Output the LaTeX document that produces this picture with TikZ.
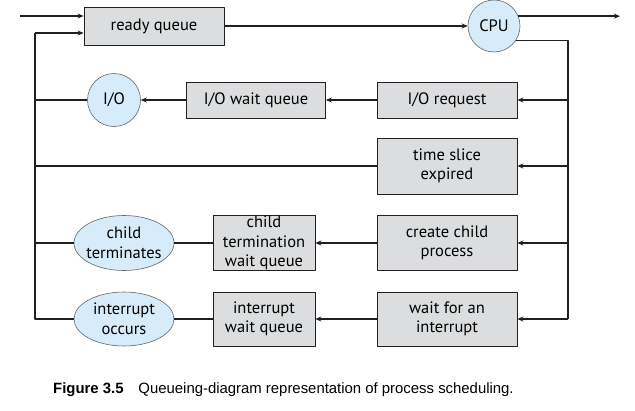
\documentclass[tikz,border=0pt]{standalone}
\usepackage{fontspec}
\setmainfont{PT Sans}
\newfontfamily\capfont{Liberation Sans}
\usetikzlibrary{arrows.meta,shapes.geometric}
\definecolor{boxgray}{RGB}{220,221,222}
\definecolor{procblue}{RGB}{214,236,250}
\definecolor{linedark}{RGB}{35,31,32}

\begin{document}
\begin{tikzpicture}[x=1pt, y=-1pt, line join=round,
    queue/.style={draw=linedark, line width=0.8pt, fill=boxgray, inner sep=0pt,
      align=center, font=\fontsize{16.5}{19.5}\selectfont},
    event/.style={draw=gray!80!black, line width=0.6pt, fill=procblue, inner sep=0pt,
      align=center, font=\fontsize{16.5}{19.5}\selectfont},
    flow/.style={line width=1.6pt, draw=linedark},
    arr/.style={flow, -{Stealth[length=6pt,width=5pt]}}]
      \useasboundingbox (0,0) rectangle (635,410);
      % buses and free ends
      \coordinate (lbus) at (35,0); \coordinate (rbus) at (568,0);
      \coordinate (in) at (20,16); \coordinate (out) at (620,16);
      % top row
      \node[queue, minimum width=140pt, minimum height=38pt] (rq) at (154,26) {ready queue};
      \node[event, circle, minimum size=52pt] (cpu) at (494,26) {CPU};
      \coordinate (rqin) at ([yshift=-7pt]rq.west);
      % I/O row
      \node[queue, minimum width=140pt, minimum height=36pt] (ioreq) at (447,100) {I/O request};
      \node[queue, minimum width=139pt, minimum height=36pt] (iowq) at (256,100) {I/O wait queue};
      \node[event, circle, minimum size=53pt] (io) at (114,100) {I/O};
      % time slice row
      \node[queue, minimum width=140pt, minimum height=56pt] (slice) at (447,166) {time slice\\expired};
      % child row
      \node[queue, minimum width=140pt, minimum height=55pt] (fork) at (447,243) {create child\\process};
      \node[queue, minimum width=102pt, minimum height=55pt] (cwq) at (264,243) {child\\termination\\wait queue};
      \node[event, ellipse, inner xsep=-5pt, inner ysep=-4pt, minimum width=100pt, minimum height=55pt] (cterm) at (124,243) {child\\terminates};
      % interrupt row
      \node[queue, minimum width=140pt, minimum height=54pt] (wint) at (447,319) {wait for an\\interrupt};
      \node[queue, minimum width=102pt, minimum height=54pt] (iwq) at (264,319) {interrupt\\wait queue};
      \node[event, ellipse, inner xsep=-5pt, inner ysep=-4pt, minimum width=100pt, minimum height=54pt] (intocc) at (124,319) {interrupt\\occurs};
      % connectors
      \draw[arr] (in) -- (in -| rq.west);
      \draw[arr] (rq.east) -- (cpu.west);
      \draw[arr] (cpu.22) -- (cpu.22 -| out);
      \draw[flow] (cpu.-33) -- (cpu.-33 -| rbus) -- (rbus |- wint);
      \draw[arr] (rbus |- ioreq) -- (ioreq);
      \draw[arr] (rbus |- slice) -- (slice);
      \draw[arr] (rbus |- fork) -- (fork);
      \draw[arr] (rbus |- wint) -- (wint);
      \draw[arr] (ioreq) -- (iowq);
      \draw[arr] (iowq) -- (io);
      \draw[arr] (fork) -- (cwq);
      \draw[arr] (wint) -- (iwq);
      \draw[flow] (cwq) -- (cterm);
      \draw[flow] (iwq) -- (intocc);
      \draw[flow] (io) -- (lbus |- io);
      \draw[flow] (slice) -- (lbus |- slice);
      \draw[flow] (cterm) -- (lbus |- cterm);
      \draw[flow] (intocc) -- (lbus |- intocc) -- (lbus |- rqin);
      \draw[arr] (lbus |- rqin) -- (rqin);
      % caption
      \node[anchor=base west, inner sep=0pt, font=\capfont\fontsize{14.9}{17}\selectfont] (cap) at (53,393)
        {\textbf{Figure 3.5}\quad Queueing-diagram representation of process scheduling.};
\end{tikzpicture}
\end{document}
